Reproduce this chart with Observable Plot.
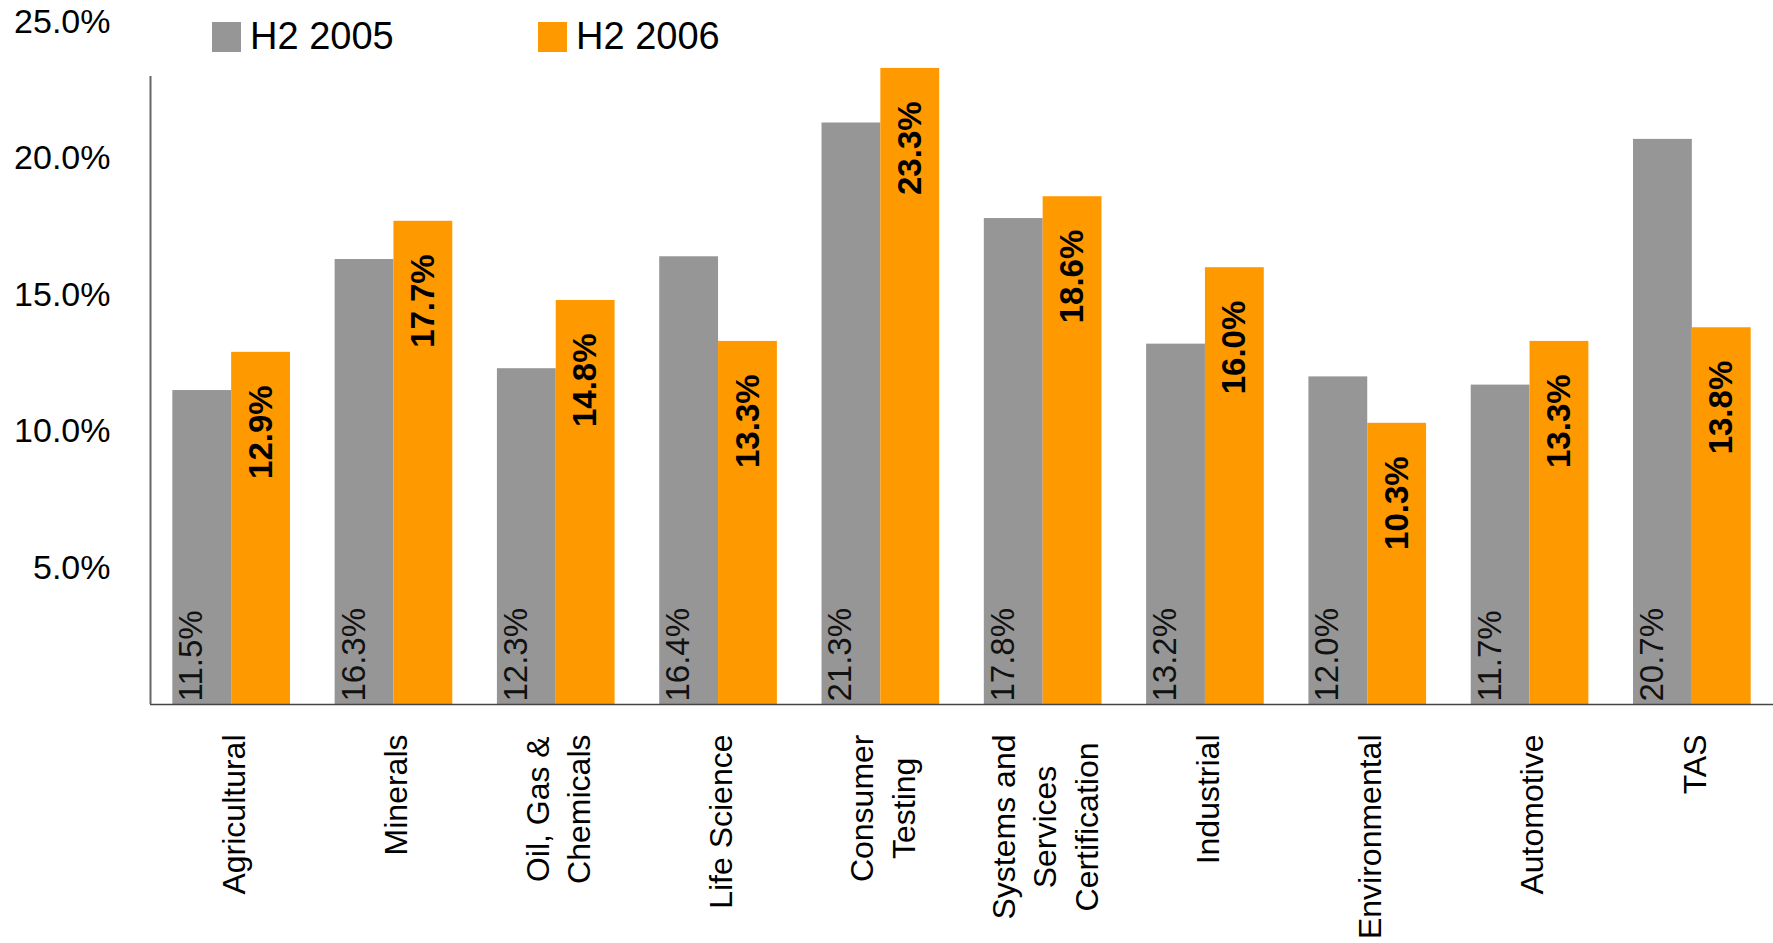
<!DOCTYPE html>
<html>
<head>
<meta charset="utf-8">
<script src="https://cdn.jsdelivr.net/npm/d3@7"></script>
<script src="https://cdn.jsdelivr.net/npm/@observablehq/plot@0.6"></script>
<style>
  body { margin: 0; background: #fff; }
  #wrap { position: relative; width: 1773px; height: 943px; overflow: hidden;
          font-family: "Liberation Sans", Arial, Helvetica, sans-serif; }
  #chart { position: absolute; left: 0; top: 0; }
  .lg-sw { position: absolute; width: 29px; height: 30px; }
  .lg-tx { position: absolute; font-size: 38px; line-height: 1; color: #000; white-space: nowrap; }
</style>
</head>
<body>
<div id="wrap"><div id="chart"></div><div id="legend"></div></div>
<script>
// ---- data ----
const categories = ["Agricultural", "Minerals", "Oil, Gas & Chemicals", "Life Science", "Consumer Testing",
  "Systems and Services Certification", "Industrial", "Environmental", "Automotive", "TAS"];
const categoryLabels = ["Agricultural", "Minerals", "Oil, Gas &\nChemicals", "Life Science", "Consumer\nTesting",
  "Systems and\nServices\nCertification", "Industrial", "Environmental", "Automotive", "TAS"];
const series = ["H2 2005", "H2 2006"];
const h2005 = [11.5, 16.3, 12.3, 16.4, 21.3, 17.8, 13.2, 12.0, 11.7, 20.7];
const h2006 = [12.9, 17.7, 14.8, 13.3, 23.3, 18.6, 16.0, 10.3, 13.3, 13.8];
const yTicks = [5, 10, 15, 20, 25];
const colors = ["#969696", "#FF9900"];
const axisTop = 23.0; // where the drawn y-axis line stops

// ---- layout ----
const W = 1773, H = 943, ML = 150, MR = 0, MT = 21.5, MB = 239;
const padIn = 0.275, padOut = padIn / 2;
const step = (W - ML - MR) / (categories.length - padIn + 2 * padOut);
const bw = step * (1 - padIn);
const outer = step * padOut;
const FONT = '"Liberation Sans", Arial, Helvetica, sans-serif';
const catFont = 32, valFont = 33, tickFont = 34;

const rows = categories.map((c, i) => ({cat: c, label: categoryLabels[i], v05: h2005[i], v06: h2006[i]}));
const fmt = v => v.toFixed(1) + "%";

// measure longest line of each category label
const ctx = document.createElement("canvas").getContext("2d");
ctx.font = `${catFont}px ${FONT}`;
const maxLine = s => Math.max(...s.split("\n").map(t => ctx.measureText(t).width));
const labelTopGap = 30; // distance from baseline to top end of category labels

const catMarks = rows.map(r => Plot.text([r], {
  x: "cat", text: "label", frameAnchor: "bottom", rotate: -90, textAnchor: "middle",
  lineAnchor: "middle", lineHeight: 1.3, fontSize: catFont, fill: "#000",
  dy: labelTopGap + maxLine(r.label) / 2
}));

const chart = Plot.plot({
  width: W, height: H,
  marginLeft: ML, marginRight: MR, marginTop: MT, marginBottom: MB,
  style: {fontFamily: FONT, background: "transparent", overflow: "visible"},
  x: {type: "band", domain: categories, paddingInner: padIn, paddingOuter: padOut, round: false, axis: null},
  y: {domain: [0, 25], axis: null},
  marks: [
    Plot.barY(rows, {x: "cat", y: "v05", fill: colors[0], insetRight: bw / 2}),
    Plot.barY(rows, {x: "cat", y: "v06", fill: colors[1], insetLeft: bw / 2}),
    Plot.ruleY([0], {stroke: "#444", strokeWidth: 1.5}),
    Plot.ruleX([categories[0]], {x: d => d, y1: 0, y2: axisTop, dx: -(bw / 2 + outer), stroke: "#666", strokeWidth: 2}),
    Plot.axisY({ticks: yTicks, tickFormat: d => d.toFixed(1) + "%", tickSize: 0, tickPadding: 40,
      fontSize: tickFont, label: null, anchor: "left", fill: "#000"}),
    Plot.text(rows, {x: "cat", text: d => fmt(d.v05), frameAnchor: "bottom", dx: -bw / 4, dy: -3,
      rotate: -90, textAnchor: "start", fontSize: valFont, fill: "#111"}),
    Plot.text(rows, {x: "cat", y: "v06", text: d => fmt(d.v06), dx: bw / 4, dy: 33,
      rotate: -90, textAnchor: "end", fontSize: valFont, fontWeight: "bold", fill: "#000"}),
    ...catMarks
  ]
});
document.getElementById("chart").appendChild(chart);

// ---- legend ----
const legend = document.getElementById("legend");
series.forEach((s, i) => {
  const left = 212 + i * 326;
  const sw = document.createElement("div");
  sw.className = "lg-sw"; sw.style.left = left + "px"; sw.style.top = "22px"; sw.style.background = colors[i];
  const tx = document.createElement("div");
  tx.className = "lg-tx"; tx.style.left = (left + 38) + "px"; tx.style.top = "17px"; tx.textContent = s;
  legend.appendChild(sw); legend.appendChild(tx);
});
</script>
</body>
</html>
